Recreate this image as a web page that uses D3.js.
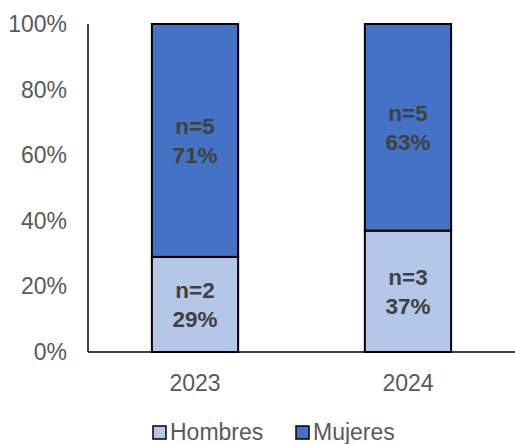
<!DOCTYPE html>
<html>
<head>
<meta charset="utf-8">
<script src="https://cdn.jsdelivr.net/npm/d3@7"></script>
<style>
  body { margin: 0; background: #fff; }
  text { font-family: "Liberation Sans", Arial, sans-serif; }
</style>
</head>
<body>
<div id="container"></div>
<script>
var WIDTH = 515;
var HEIGHT = 444;

// data
const years = ['2023', '2024'];
const series = ['Hombres', 'Mujeres'];
const hombresPct = [0.29, 0.37];
const mujeresPct = [0.71, 0.63];
const hombresN = [2, 3];
const mujeresN = [5, 5];
const yTicks = [0, 0.2, 0.4, 0.6, 0.8, 1.0];

const COLORS = { Hombres: '#B4C7E7', Mujeres: '#4472C4' };

const svg = d3.select('#container')
  .append('svg')
    .attr('width', WIDTH)
    .attr('height', HEIGHT);

const x = d3.scaleBand()
  .domain(years)
  .range([88, 515])
  .paddingInner(0.595)
  .paddingOuter(0.3);

const y = d3.scaleLinear()
  .domain([0, 1])
  .range([352, 24]);

// y tick labels
svg.selectAll('.ytick')
  .data(yTicks)
  .enter()
  .append('text')
    .attr('class', 'ytick')
    .attr('x', 67)
    .attr('y', d => y(d))
    .attr('dy', '0.35em')
    .attr('text-anchor', 'end')
    .attr('fill', '#595959')
    .style('font-size', '23px')
    .text(d => d3.format('.0%')(d));

// stack
const rows = years.map((yr, i) => ({ year: yr, Hombres: hombresPct[i], Mujeres: mujeresPct[i], i: i }));
const stacked = d3.stack().keys(series)(rows);

const layers = svg.selectAll('.layer')
  .data(stacked)
  .enter()
  .append('g')
    .attr('class', 'layer')
    .attr('fill', d => COLORS[d.key]);

layers.selectAll('rect')
  .data(d => d)
  .enter()
  .append('rect')
    .attr('x', d => x(d.data.year))
    .attr('width', x.bandwidth())
    .attr('y', d => y(d[1]))
    .attr('height', d => y(d[0]) - y(d[1]))
    .attr('stroke', '#000')
    .attr('stroke-width', 2);

// labels inside bars
stacked.forEach(layer => {
  const counts = layer.key === 'Hombres' ? hombresN : mujeresN;
  layer.forEach(d => {
    const cx = x(d.data.year) + x.bandwidth() / 2;
    const cy = (y(d[0]) + y(d[1])) / 2;
    const t = svg.append('text')
      .attr('x', cx)
      .attr('y', cy)
      .attr('text-anchor', 'middle')
      .attr('fill', '#404040')
      .style('font-size', '22.5px')
      .style('font-weight', 'bold');
    t.append('tspan').attr('x', cx).attr('dy', '-0.28em').text('n=' + counts[d.data.i]);
    t.append('tspan').attr('x', cx).attr('dy', '1.3em').text(Math.round((d[1] - d[0]) * 100) + '%');
  });
});

// axes lines
svg.append('line')
  .attr('x1', 88).attr('x2', 88)
  .attr('y1', y(1)).attr('y2', y(0))
  .attr('stroke', '#000').attr('stroke-width', 1.5);
svg.append('line')
  .attr('x1', 88).attr('x2', 515)
  .attr('y1', y(0)).attr('y2', y(0))
  .attr('stroke', '#000').attr('stroke-width', 1.5);

// x tick labels
svg.selectAll('.xtick')
  .data(years)
  .enter()
  .append('text')
    .attr('x', d => x(d) + x.bandwidth() / 2)
    .attr('y', 383)
    .attr('dy', '0.35em')
    .attr('text-anchor', 'middle')
    .attr('fill', '#595959')
    .style('font-size', '23px')
    .text(d => d);

// legend
const legendX = [153, 296];
const legend = svg.selectAll('.legend')
  .data(series)
  .enter()
  .append('g')
    .attr('transform', (d, i) => `translate(${legendX[i]}, 432)`);

legend.append('rect')
  .attr('x', 0).attr('y', -6)
  .attr('width', 13).attr('height', 13)
  .attr('fill', d => COLORS[d])
  .attr('stroke', '#000')
  .attr('stroke-width', 1.5);

legend.append('text')
  .attr('x', 17)
  .attr('y', 0)
  .attr('dy', '0.35em')
  .attr('fill', '#595959')
  .style('font-size', '23px')
  .text(d => d);
</script>
</body>
</html>
